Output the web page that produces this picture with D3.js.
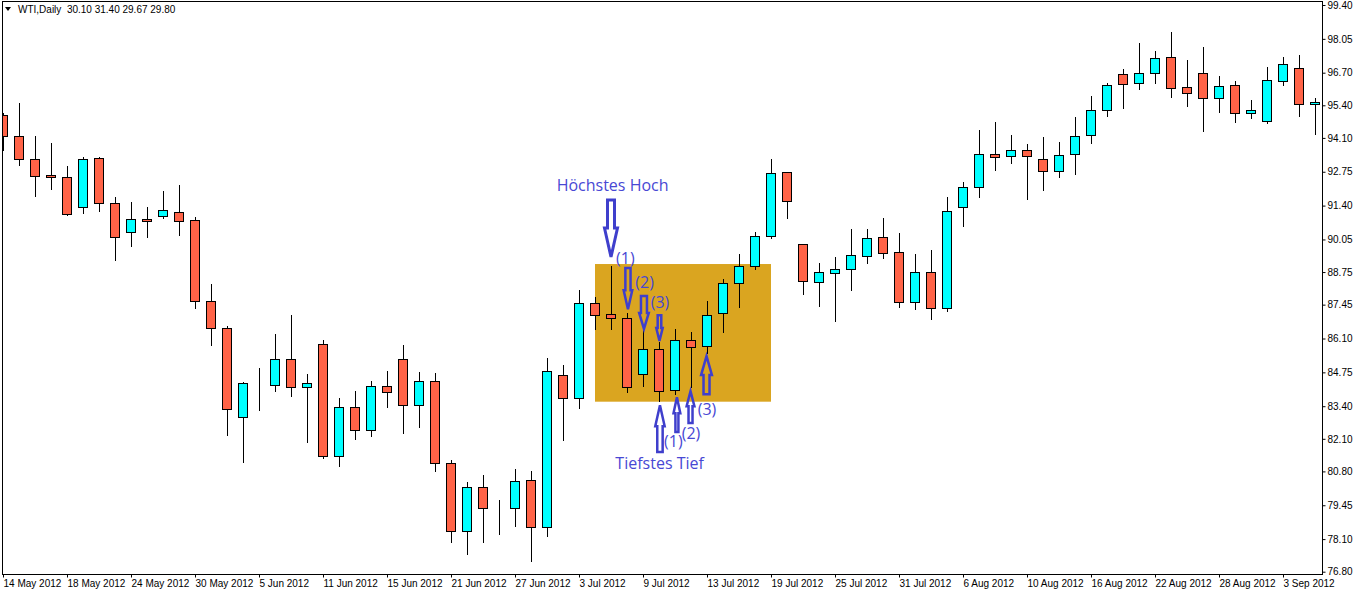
<!DOCTYPE html>
<html><head><meta charset="utf-8">
<script src="https://cdn.jsdelivr.net/npm/d3@7"></script>
<style>
html,body{margin:0;padding:0;background:#fff;overflow:hidden;}
svg{display:block;}
</style></head><body>
<svg id="c" width="1362" height="595"></svg>
<script>
// ---------- DATA ----------
const dates = [
"2012-05-14","2012-05-15","2012-05-16","2012-05-17","2012-05-18","2012-05-21","2012-05-22","2012-05-23","2012-05-24","2012-05-25","2012-05-28","2012-05-29","2012-05-30","2012-05-31",
"2012-06-01","2012-06-04","2012-06-05","2012-06-06","2012-06-07","2012-06-08","2012-06-11","2012-06-12","2012-06-13","2012-06-14","2012-06-15","2012-06-18","2012-06-19","2012-06-20","2012-06-21","2012-06-22","2012-06-25","2012-06-26","2012-06-27","2012-06-28","2012-06-29",
"2012-07-02","2012-07-03","2012-07-04","2012-07-05","2012-07-06","2012-07-09","2012-07-10","2012-07-11","2012-07-12","2012-07-13","2012-07-16","2012-07-17","2012-07-18","2012-07-19","2012-07-20","2012-07-23","2012-07-24","2012-07-25","2012-07-26","2012-07-27","2012-07-30","2012-07-31",
"2012-08-01","2012-08-02","2012-08-03","2012-08-06","2012-08-07","2012-08-08","2012-08-09","2012-08-10","2012-08-13","2012-08-14","2012-08-15","2012-08-16","2012-08-17","2012-08-20","2012-08-21","2012-08-22","2012-08-23","2012-08-24","2012-08-27","2012-08-28","2012-08-29","2012-08-30","2012-08-31",
"2012-09-03","2012-09-04","2012-09-05"];

const openP = [95.01,94.16,93.25,92.61,92.53,91.33,93.28,91.49,90.36,90.85,91.00,91.13,90.81,87.58,86.50,82.95,84.27,84.23,85.27,84.15,
85.87,81.40,83.35,82.47,84.19,85.27,83.43,84.39,81.12,78.41,80.16,79.35,79.36,80.44,78.57,84.63,83.71,87.50,87.06,86.90,
84.67,85.67,84.03,86.06,85.79,87.10,88.30,88.98,90.17,92.73,89.85,88.34,88.70,88.86,89.38,90.13,89.53,87.54,88.74,87.30,
91.33,92.13,93.44,93.36,93.60,93.25,92.77,93.44,94.20,95.20,96.64,96.28,96.68,97.31,96.12,96.68,95.68,96.20,95.08,94.76,
96.36,96.90,95.44];
const highP = [95.08,95.50,94.17,93.90,92.98,93.32,93.32,91.74,91.54,91.34,91.98,92.22,90.94,88.27,86.58,84.35,84.92,86.28,87.03,84.68,
86.04,83.71,84.00,84.39,84.80,85.84,84.76,84.72,81.25,80.37,80.65,79.65,80.89,80.81,85.32,85.04,88.03,87.74,88.99,87.10,
86.46,85.96,86.46,86.36,87.59,88.46,89.46,90.35,93.26,92.75,89.87,89.11,89.35,90.46,90.46,90.90,90.31,89.47,89.63,91.74,
92.34,94.41,94.73,94.21,93.84,94.13,93.94,94.93,95.77,96.28,96.83,97.87,97.55,98.31,97.19,97.71,96.56,96.36,95.60,96.91,
97.31,97.41,95.68];
const lowP = [93.62,93.03,91.79,92.07,91.01,91.11,91.19,89.23,89.80,90.16,90.92,90.24,87.33,85.85,82.26,81.18,83.24,84.01,83.81,81.98,
81.32,81.02,82.10,82.23,83.38,82.34,82.58,80.82,77.99,77.51,77.99,78.31,78.63,77.23,78.23,82.06,83.31,86.49,86.49,83.97,
84.21,83.62,83.89,84.17,85.51,86.37,87.37,88.88,90.12,90.92,87.88,87.41,86.81,88.04,89.12,89.32,87.37,87.29,86.89,87.21,
90.60,91.75,92.81,93.09,91.67,92.03,92.55,92.67,93.91,94.98,95.30,96.06,96.28,95.74,95.38,94.39,95.14,94.74,94.90,94.71,
96.20,94.96,94.24];
const closeP = [94.16,93.25,92.57,92.53,91.05,93.25,91.49,90.13,90.85,90.77,91.21,90.77,87.58,86.50,83.27,84.31,84.27,85.27,84.15,84.31,
81.40,83.35,82.47,84.19,83.95,83.43,84.39,81.12,78.41,80.16,79.36,79.35,80.40,78.57,84.79,83.71,87.50,87.02,86.90,84.16,
85.67,83.99,86.06,85.75,87.02,88.30,88.98,90.17,92.69,91.57,88.38,88.74,88.86,89.42,90.09,89.50,87.54,88.74,87.30,91.17,
92.13,93.44,93.32,93.60,93.36,92.77,93.40,94.16,95.20,96.20,96.24,96.68,97.27,96.08,95.88,95.68,96.16,95.08,95.20,96.40,
97.03,95.44,95.53];

const priceTicks = [99.40,98.05,96.70,95.40,94.10,92.75,91.40,90.05,88.75,87.45,86.10,84.75,83.40,82.10,80.80,79.45,78.10,76.80];
const dateTickLabels = ["14 May 2012","18 May 2012","24 May 2012","30 May 2012","5 Jun 2012","11 Jun 2012","15 Jun 2012","21 Jun 2012",
"27 Jun 2012","3 Jul 2012","9 Jul 2012","13 Jul 2012","19 Jul 2012","25 Jul 2012","31 Jul 2012","6 Aug 2012","10 Aug 2012",
"16 Aug 2012","22 Aug 2012","28 Aug 2012","3 Sep 2012"];
const dateTickDates = ["2012-05-14","2012-05-18","2012-05-24","2012-05-30","2012-06-05","2012-06-11","2012-06-15","2012-06-21",
"2012-06-27","2012-07-03","2012-07-09","2012-07-13","2012-07-19","2012-07-25","2012-07-31","2012-08-06","2012-08-10",
"2012-08-16","2012-08-22","2012-08-28","2012-09-03"];

const headerText = "WTI,Daily  30.10 31.40 29.67 29.80";

// highlighted range (bar index from / to, price top / bottom)
const zoneBars = [37, 48];
const zonePrices = [89.07, 83.58];

// annotation arrows (bar index, price tail, price tip)
const downArrowBars = [38.0, 39.06, 40.06, 41.03];
const downArrowTail = [91.62, 88.91, 87.79, 87.03];
const downArrowTip  = [89.35, 87.27, 86.48, 86.00];
const upArrowBars = [41.06, 42.12, 42.97, 43.97];
const upArrowTail = [81.57, 82.37, 82.73, 83.88];
const upArrowTip  = [83.44, 83.76, 84.00, 85.40];

// annotation texts
const noteTexts  = ["Höchstes Hoch","Tiefstes Tief","(1)","(2)","(3)","(1)","(2)","(3)"];
const noteBars   = [38.1, 41.04, 38.9, 40.1, 41.06, 41.9, 43.0, 44.0];
const notePrices = [92.22, 81.13, 89.31, 88.35, 87.55, 82.01, 82.33, 83.28];

// ---------- CHART ----------
const svg = d3.select("#c");
const frame = {l:2.5, t:1.5, r:1322.5, b:574.5};

const x = d3.scalePoint().domain(dates).range([3, 1315]);
const xi = i => x(dates[0]) + i * x.step();
const y = d3.scaleLinear().domain([76.80, 99.40]).range([571.7, 5]);

const bars = dates.map((d,i)=>({d, o:openP[i], h:highP[i], l:lowP[i], c:closeP[i]}));

svg.append("rect").attr("width",1362).attr("height",595).attr("fill","#fff");

svg.append("defs").append("clipPath").attr("id","clip")
  .append("rect").attr("x",frame.l).attr("y",frame.t).attr("width",frame.r-frame.l).attr("height",frame.b-frame.t);

const plot = svg.append("g").attr("clip-path","url(#clip)");

// zone
plot.append("rect")
  .attr("x", xi(zoneBars[0])).attr("width", xi(zoneBars[1]) - xi(zoneBars[0]))
  .attr("y", y(zonePrices[0])).attr("height", y(zonePrices[1]) - y(zonePrices[0]))
  .attr("fill", "#DAA520");

// candles
const cg = plot.append("g");
const px = d => Math.round(x(d.d));
cg.selectAll("line.wick").data(bars).join("line")
  .attr("x1", d=>px(d)+0.5).attr("x2", d=>px(d)+0.5)
  .attr("y1", d=>Math.round(y(d.h))).attr("y2", d=>Math.round(y(d.l))+1)
  .attr("stroke","#000").attr("stroke-width",1);
cg.selectAll("rect.body").data(bars).join("rect")
  .attr("x", d=>px(d)-4.5).attr("width", 9)
  .attr("y", d=>Math.round(y(Math.max(d.o,d.c)))+0.5)
  .attr("height", d=>Math.max(0, Math.round(y(Math.min(d.o,d.c))) - Math.round(y(Math.max(d.o,d.c)))))
  .attr("fill", d=> d.c >= d.o ? "#00FFFF" : "#FF6347")
  .attr("stroke","#000").attr("stroke-width",1);

// arrows
const arrowColor = "#3F3FCC";
const downStyle = [{sw:3.5,hw:6.5,hl:29,w:3},{sw:2.6,hw:4.3,hl:19,w:2.5},{sw:3,hw:4.8,hl:16,w:2.5},{sw:1.8,hw:3.2,hl:13,w:2.5}];
const upStyle   = [{sw:2.7,hw:4.7,hl:21,w:2.5},{sw:1.5,hw:3.4,hl:16,w:2.5},{sw:2,hw:3.9,hl:15,w:2.5},{sw:3,hw:5.4,hl:19,w:2.5}];
function arrowPath(cx, yTail, yTip, s){
  const dir = yTip > yTail ? 1 : -1;
  const yh = yTip - dir*s.hl;
  return `M${cx-s.sw},${yTail}L${cx+s.sw},${yTail}L${cx+s.sw},${yh}L${cx+s.hw},${yh}L${cx},${yTip}L${cx-s.hw},${yh}L${cx-s.sw},${yh}Z`;
}
const ag = svg.append("g");
downArrowBars.forEach((b,i)=>{
  ag.append("path").attr("d", arrowPath(xi(b), y(downArrowTail[i]), y(downArrowTip[i]), downStyle[i]))
    .attr("fill","none").attr("stroke",arrowColor).attr("stroke-width",downStyle[i].w).attr("stroke-linejoin","miter");
});
upArrowBars.forEach((b,i)=>{
  ag.append("path").attr("d", arrowPath(xi(b), y(upArrowTail[i]), y(upArrowTip[i]), upStyle[i]))
    .attr("fill","none").attr("stroke",arrowColor).attr("stroke-width",upStyle[i].w).attr("stroke-linejoin","miter");
});

// notes
svg.append("g").selectAll("text").data(noteTexts).join("text")
  .attr("x",(t,i)=>xi(noteBars[i])).attr("y",(t,i)=>y(notePrices[i]))
  .attr("text-anchor","middle").attr("dominant-baseline","central")
  .attr("font-family","'Open Sans', 'Noto Sans', sans-serif").attr("font-size",16)
  .attr("fill","#4848D4").text(t=>t);

// frame
svg.append("rect").attr("x",frame.l).attr("y",frame.t).attr("width",frame.r-frame.l).attr("height",frame.b-frame.t)
  .attr("fill","none").attr("stroke","#000").attr("stroke-width",1);

const axisFont = "'Liberation Sans', Arial, sans-serif";
// right axis
const ya = svg.append("g").attr("transform",`translate(${frame.r},0)`)
  .call(d3.axisRight(y).tickValues(priceTicks).tickSize(3).tickPadding(2).tickFormat(d3.format(".2f")));
ya.select(".domain").remove();
ya.selectAll("text").attr("font-family",axisFont).attr("font-size",10).attr("fill","#000");
ya.selectAll("line").attr("stroke","#000");

// bottom axis
const xa = svg.append("g").attr("transform",`translate(0,${frame.b})`)
  .call(d3.axisBottom(x).tickValues(dateTickDates).tickSize(3).tickPadding(2)
    .tickFormat(d=>dateTickLabels[dateTickDates.indexOf(d)]));
xa.select(".domain").remove();
xa.selectAll("text").attr("font-family",axisFont).attr("font-size",10).attr("fill","#000")
  .attr("text-anchor","start").attr("dx",0);
xa.selectAll("line").attr("stroke","#000");

// header
svg.append("path").attr("d","M5,7L11,7L8,11Z").attr("fill","#000");
svg.append("text").attr("x",18).attr("y",13).attr("font-family",axisFont).attr("font-size",10)
  .attr("fill","#000").attr("xml:space","preserve").style("white-space","pre").text(headerText);
</script>
</body></html>
